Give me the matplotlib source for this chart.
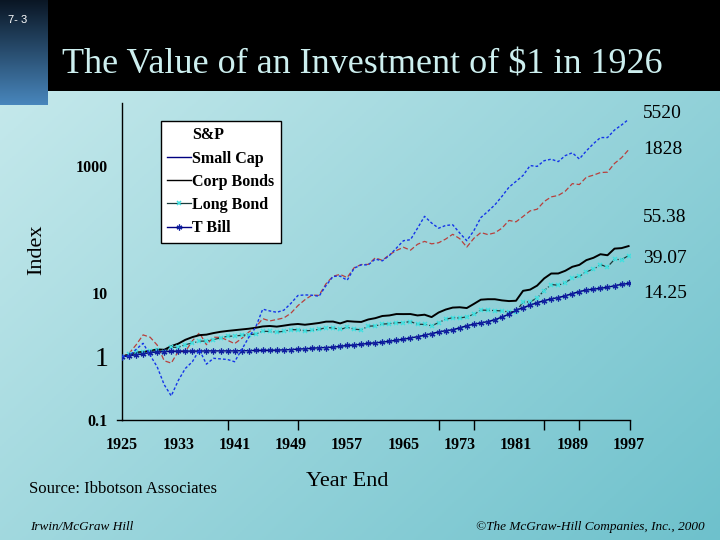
import numpy as np
import matplotlib
matplotlib.use('Agg')
import matplotlib.pyplot as plt
from matplotlib.lines import Line2D
from matplotlib.patches import Rectangle
from matplotlib.ticker import FixedLocator, NullLocator

# ---------------- data ----------------
years = np.arange(1925, 1998)

sp500 = [1.00, 1.12, 1.53, 2.20, 2.02, 1.52, 0.86, 0.79, 1.21, 1.20,
         1.77, 2.37, 1.54, 2.02, 2.01, 1.81, 1.60, 1.93, 2.43, 2.91,
         3.97, 3.65, 3.85, 4.07, 4.83, 6.36, 7.89, 9.34, 9.24, 14.11,
         18.56, 19.78, 17.65, 25.30, 28.32, 28.45, 36.11, 32.95, 40.46, 47.13,
         53.00, 47.67, 59.10, 65.64, 60.06, 62.47, 71.41, 84.96, 72.50, 53.31,
         73.14, 90.58, 84.08, 89.59, 106.11, 140.52, 133.62, 162.22, 198.74, 211.19,
         279.11, 330.67, 347.96, 406.46, 534.46, 517.50, 675.59, 727.41, 800.08, 810.54,
         1113.92, 1370.95, 1828.33]

small_cap = [1.00, 1.02, 1.30, 1.62, 1.05, 0.69, 0.36, 0.24, 0.42, 0.65,
             0.83, 1.28, 0.76, 0.94, 0.92, 0.90, 0.83, 1.28, 2.00, 2.90,
             5.60, 5.25, 5.00, 5.40, 6.90, 9.20, 9.40, 9.30, 8.95, 13.2,
             18.4, 18.6, 16.0, 24.8, 28.0, 28.0, 34.5, 32.4, 39.3, 51.5,
             67.3, 69.8, 106.0, 163.0, 128.0, 106.0, 117.0, 120.0, 89.0, 67.3,
             96.5, 156.0, 195.0, 248.0, 337.0, 470.0, 580.0, 720.0, 1030.0, 1000.0,
             1230.0, 1300.0, 1190.0, 1480.0, 1640.0, 1310.0, 1760.0, 2280.0, 2850.0, 2850.0,
             3750.0, 4500.0, 5520.0]

corp_bonds = [1.00, 1.07, 1.15, 1.19, 1.23, 1.30, 1.28, 1.46, 1.60, 1.84,
              2.03, 2.18, 2.22, 2.35, 2.46, 2.54, 2.61, 2.68, 2.75, 2.85,
              2.99, 3.04, 2.97, 3.08, 3.20, 3.27, 3.18, 3.28, 3.39, 3.56,
              3.57, 3.34, 3.63, 3.56, 3.52, 3.85, 4.04, 4.37, 4.46, 4.69,
              4.68, 4.69, 4.46, 4.58, 4.20, 4.96, 5.52, 5.93, 6.00, 5.83,
              6.77, 7.90, 8.04, 8.03, 7.70, 7.51, 7.60, 10.90, 11.38, 13.17,
              17.10, 20.44, 20.47, 22.57, 26.09, 27.97, 33.24, 36.16, 41.18, 39.69,
              50.47, 51.43, 55.38]

long_bond = [1.00, 1.08, 1.17, 1.17, 1.21, 1.26, 1.19, 1.40, 1.40, 1.55,
             1.63, 1.75, 1.76, 1.86, 1.97, 2.09, 2.11, 2.17, 2.22, 2.27,
             2.51, 2.49, 2.43, 2.51, 2.66, 2.65, 2.55, 2.59, 2.68, 2.87,
             2.83, 2.68, 2.89, 2.71, 2.65, 3.02, 3.05, 3.26, 3.30, 3.42,
             3.44, 3.57, 3.24, 3.22, 3.06, 3.43, 3.88, 4.11, 4.06, 4.24,
             4.63, 5.41, 5.38, 5.32, 5.26, 5.05, 5.14, 7.25, 7.29, 8.41,
             11.01, 13.71, 13.34, 14.68, 17.34, 18.41, 21.96, 23.76, 28.13, 25.96,
             34.19, 33.85, 39.07]

t_bill = [1.00, 1.03, 1.07, 1.10, 1.16, 1.18, 1.20, 1.21, 1.22, 1.22,
          1.22, 1.22, 1.23, 1.23, 1.23, 1.23, 1.23, 1.24, 1.24, 1.25,
          1.25, 1.26, 1.26, 1.28, 1.29, 1.31, 1.33, 1.35, 1.38, 1.39,
          1.41, 1.45, 1.50, 1.52, 1.57, 1.61, 1.65, 1.69, 1.75, 1.81,
          1.88, 1.97, 2.06, 2.17, 2.31, 2.45, 2.56, 2.65, 2.84, 3.07,
          3.24, 3.40, 3.57, 3.83, 4.20, 4.68, 5.37, 5.93, 6.46, 7.10,
          7.64, 8.12, 8.54, 9.08, 9.85, 10.61, 11.21, 11.60, 11.94, 12.41,
          13.11, 13.78, 14.25]

series_names = ['S&P', 'Small Cap', 'Corp Bonds', 'Long Bond', 'T Bill']
year_labels = ['1925', '1933', '1941', '1949', '1957', '1965', '1973', '1981', '1989', '1997']
y_tick_values = [0.1, 1, 10, 1000]
y_tick_labels = ['0.1', '1', '10', '1000']
end_labels = ['5520', '1828', '55.38', '39.07', '14.25']

for s in (sp500, small_cap, corp_bonds, long_bond, t_bill):
    assert len(s) == len(years)

# ---------------- figure ----------------
W, H = 720, 540
SERIF = 'Liberation Serif'
fig = plt.figure(figsize=(7.2, 5.4), dpi=100)

bg = fig.add_axes([0, 0, 1, 1], zorder=0)
bg.axis('off')
xx, yy = np.meshgrid(np.linspace(0, 1, 360), np.linspace(0, 1, 270))
t = np.clip(0.55 * xx + 0.45 * yy, 0, 1)
c0 = np.array([204, 236, 238]) / 255
c1 = np.array([110, 193, 204]) / 255
img = c0[None, None, :] * (1 - t[..., None]) + c1[None, None, :] * t[..., None]
bg.imshow(img, extent=[0, W, H, 0], aspect='auto', zorder=0)
bg.add_patch(Rectangle((0, 0), W, 91, facecolor='black', edgecolor='none', zorder=1))
gv = np.linspace(0, 1, 100)[:, None]
top_c = np.array([10, 22, 36]) / 255
bot_c = np.array([72, 134, 188]) / 255
bimg = top_c[None, None, :] * (1 - gv[..., None]) + bot_c[None, None, :] * gv[..., None]
bimg = np.repeat(bimg, 2, axis=1)
bg.imshow(bimg, extent=[0, 48, 105, 0], aspect='auto', zorder=2)
bg.set_xlim(0, W)
bg.set_ylim(H, 0)

fig.text(8 / W, 1 - 20 / H, '7- 3', color='white', fontsize=8,
         family='Liberation Sans', ha='left', va='center')
fig.text(62 / W, 1 - 65 / H, 'The Value of an Investment of $1 in 1926',
         color='#CDEFEF', fontsize=26, family=SERIF, ha='left', va='center')

# ---------------- main axes ----------------
ax = fig.add_axes([122 / W, 1 - 420 / H, (630 - 122) / W, (420 - 103) / H], zorder=2)
ax.patch.set_alpha(0)
ax.set_yscale('log')
ax.set_ylim(0.1, 10000)
ax.set_xlim(1925, 1997.2)

ax.plot(years, sp500, color='#B8403C', lw=0.9, ls=(0, (4, 2)), zorder=3)
ax.plot(years, small_cap, color='#1535E8', lw=1.0, ls=(0, (2, 1.5)), zorder=4)
ax.plot(years, corp_bonds, color='black', lw=1.4, zorder=3)
ax.plot(years, long_bond, color='#1a3a3a', lw=0.9, ls='-.', marker='x', ms=3.2,
        mec='#40E0E0', mew=1.1, zorder=3)
ax.plot(years, t_bill, color='#000080', lw=1.0, marker=(6, 2, 0), ms=4.2,
        mec='#1020A0', mew=0.9, zorder=3)

for side in ('top', 'right'):
    ax.spines[side].set_visible(False)
for side in ('left', 'bottom'):
    ax.spines[side].set_linewidth(1.0)
    ax.spines[side].set_color('black')

# x ticks: labels evenly spaced, marks irregular (as in original)
ax.xaxis.set_major_locator(FixedLocator([int(l) for l in year_labels]))
ax.set_xticklabels(year_labels)
ax.tick_params(axis='x', which='major', length=0, pad=12)
ax.xaxis.set_minor_locator(FixedLocator([1925, 1940, 1950, 1965, 1970, 1975, 1985, 1990, 1997.2]))
ax.tick_params(axis='x', which='minor', length=7, width=1, direction='out', color='black')
for lab in ax.get_xticklabels():
    lab.set_fontfamily(SERIF)
    lab.set_fontweight('bold')
    lab.set_fontsize(11.5)

# y ticks
ax.yaxis.set_major_locator(FixedLocator(y_tick_values))
ax.yaxis.set_minor_locator(NullLocator())
ax.set_yticklabels(y_tick_labels)
ax.tick_params(axis='y', which='major', length=0, pad=10)
for lab, txt in zip(ax.get_yticklabels(), y_tick_labels):
    lab.set_fontfamily(SERIF)
    if txt == '1':
        lab.set_fontsize(20)
        lab.set_fontweight('normal')
    else:
        lab.set_fontsize(11.5)
        lab.set_fontweight('bold')
ax.plot([1925 - 0.7, 1925], [0.1, 0.1], color='black', lw=1, clip_on=False)

# axis titles
fig.text(37 / W, 1 - 250 / H, 'Index', rotation=90, fontsize=16, family=SERIF,
         ha='center', va='center')
fig.text(347 / W, 1 - 481 / H, 'Year End', fontsize=16, family=SERIF,
         ha='center', va='center')
fig.text(29 / W, 1 - 489 / H, 'Source: Ibbotson Associates', fontsize=12,
         family=SERIF, ha='left', va='center')

# end value labels
for txt, py in zip(end_labels, [113, 149, 218, 258, 293]):
    fig.text(643 / W, 1 - py / H, txt, fontsize=14, family=SERIF,
             ha='left', va='center')

# footer
fig.text(30 / W, 1 - 527 / H, 'Irwin/McGraw Hill', fontsize=9.5, family=SERIF,
         style='italic', ha='left', va='center')
fig.text(705 / W, 1 - 527 / H, '\u00a9The McGraw-Hill Companies, Inc., 2000',
         fontsize=9.5, family=SERIF, style='italic', ha='right', va='center')

# legend
handles = [
    Line2D([], [], color=(0, 0, 0, 0), lw=1),
    Line2D([], [], color='#000080', lw=1),
    Line2D([], [], color='black', lw=1),
    Line2D([], [], color='#1a3a3a', lw=0.9, marker='x', ms=3.2, mec='#40E0E0', mew=1.1),
    Line2D([], [], color='#000080', lw=1, marker=(6, 2, 0), ms=4.2, mec='#1020A0', mew=0.9),
]
leg = fig.legend(handles, series_names, loc='upper left',
                 bbox_to_anchor=(161 / W, 1 - 121 / H), bbox_transform=fig.transFigure,
                 frameon=True, fancybox=False, edgecolor='black', facecolor='white',
                 framealpha=1, borderaxespad=0, borderpad=0.4, handlelength=1.45,
                 handletextpad=0.12, labelspacing=0.45,
                 prop={'family': SERIF, 'weight': 'bold', 'size': 11.5})
leg.get_frame().set_linewidth(1.0)
leg.set_zorder(5)

fig.savefig('out.png', dpi=100)
